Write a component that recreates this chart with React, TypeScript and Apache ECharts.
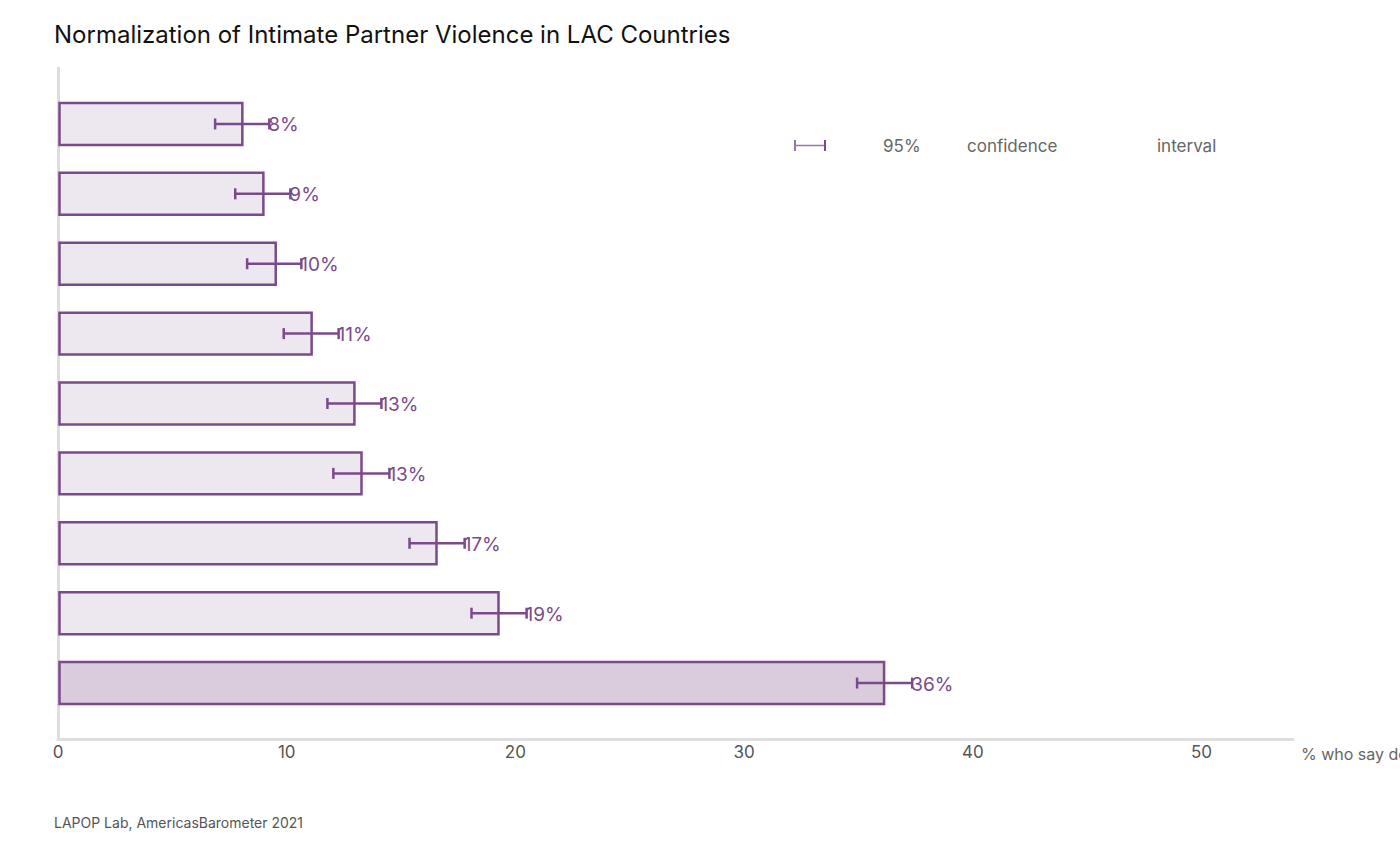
import React, { useEffect, useRef } from "react";
import * as echarts from "echarts";

const values = [8.06, 8.98, 9.52, 11.09, 12.96, 13.27, 16.55, 19.26, 36.12];
const lower = [6.87, 7.75, 8.27, 9.87, 11.78, 12.04, 15.37, 18.08, 34.94];
const upper = [9.24, 10.16, 10.64, 12.27, 14.14, 14.49, 17.78, 20.49, 37.35];
const xTicks = [0, 10, 20, 30, 40, 50];
const titleText = "Normalization of Intimate Partner Violence in LAC Countries";
const sourceText = "LAPOP Lab, AmericasBarometer 2021";
const axisName = "% who say domestic violence is justified";
const legendWords = ["95%", "confidence", "interval"];

const PURPLE = "#7b4a8b";
const FONT = "Inter, 'Noto Sans', sans-serif";

export default function App() {
  const ref = useRef<HTMLDivElement>(null);
  useEffect(() => {
    if (!ref.current) return;
    const chart = echarts.init(ref.current, undefined, { renderer: "svg" });
    const maxVal = Math.max(...values);
    const data = values.map((v, i) => [i, v, lower[i], upper[i]]);
    const option: any = {
      animation: false,
      backgroundColor: "#ffffff",
      textStyle: { fontFamily: FONT },
      title: {
        text: titleText,
        left: 54,
        top: 22,
        padding: 0,
        textStyle: { fontSize: 24, fontWeight: "normal", color: "#111111", fontFamily: FONT },
      },
      grid: { left: 58, right: 107, top: 68, bottom: 127, containLabel: false, outerBoundsMode: "none" },
      xAxis: {
        type: "value",
        min: 0,
        max: 54,
        interval: 10,
        name: axisName,
        nameLocation: "end",
        nameGap: 8,
        nameTextStyle: { color: "#666666", fontSize: 16, verticalAlign: "top", padding: [7, 0, 0, 0], fontFamily: FONT },
        axisLine: { show: true, onZero: false, lineStyle: { color: "#dddddd", width: 3 } },
        axisTick: { show: false },
        splitLine: { show: false },
        axisLabel: {
          color: "#555555",
          fontSize: 17,
          margin: 4,
          showMaxLabel: false,
          fontFamily: FONT,
          formatter: (v: number) => (xTicks.indexOf(v) >= 0 ? String(v) : ""),
        },
      },
      yAxis: {
        type: "value",
        min: -0.8,
        max: 8.8,
        inverse: true,
        axisLine: { show: true, onZero: false, lineStyle: { color: "#dddddd", width: 3 } },
        axisTick: { show: false },
        axisLabel: { show: false },
        splitLine: { show: false },
      },
      series: [
        {
          type: "custom",
          encode: { x: 1, y: 0 },
          data,
          renderItem: (params: any, api: any) => {
            const idx = api.value(0);
            const val = api.value(1);
            const lo = api.value(2);
            const hi = api.value(3);
            const s = api.coord([0, idx]);
            const e = api.coord([val, idx]);
            const l = api.coord([lo, idx]);
            const h = api.coord([hi, idx]);
            const bh = api.size([0, 1])[1] * 0.6;
            const cy = s[1];
            const fill = val === maxVal ? "#dacbdd" : "#ede7f0";
            return {
              type: "group",
              children: [
                {
                  type: "rect",
                  shape: { x: s[0] + 1.5, y: cy - bh / 2, width: e[0] - s[0] - 1.5, height: bh },
                  style: { fill, stroke: PURPLE, lineWidth: 2.5 },
                },
                {
                  type: "line",
                  shape: { x1: l[0], y1: cy, x2: h[0], y2: cy },
                  style: { stroke: PURPLE, lineWidth: 2.5 },
                },
                {
                  type: "line",
                  shape: { x1: l[0], y1: cy - 5.5, x2: l[0], y2: cy + 5.5 },
                  style: { stroke: PURPLE, lineWidth: 2.5 },
                },
                {
                  type: "line",
                  shape: { x1: h[0], y1: cy - 5.5, x2: h[0], y2: cy + 5.5 },
                  style: { stroke: PURPLE, lineWidth: 2.5 },
                },
                {
                  type: "text",
                  x: h[0] - 1,
                  y: cy + 1,
                  style: {
                    text: Math.round(val) + "%",
                    fill: PURPLE,
                    fontSize: 19,
                    fontFamily: FONT,
                    align: "left",
                    verticalAlign: "middle",
                  },
                },
              ],
            };
          },
        },
      ],
      graphic: [
        { type: "line", shape: { x1: 795, y1: 145.5, x2: 825, y2: 145.5 }, style: { stroke: "#9a74a8", lineWidth: 1.5 } },
        { type: "line", shape: { x1: 795, y1: 140, x2: 795, y2: 151 }, style: { stroke: "#9a74a8", lineWidth: 2 } },
        { type: "line", shape: { x1: 825, y1: 140, x2: 825, y2: 151 }, style: { stroke: "#7b4a8b", lineWidth: 2 } },
        { type: "text", x: 883, y: 146, style: { text: legendWords[0], fill: "#666666", fontSize: 17, fontFamily: FONT, verticalAlign: "middle" } },
        { type: "text", x: 967, y: 146, style: { text: legendWords[1], fill: "#666666", fontSize: 17, fontFamily: FONT, verticalAlign: "middle" } },
        { type: "text", x: 1157, y: 146, style: { text: legendWords[2], fill: "#666666", fontSize: 17, fontFamily: FONT, verticalAlign: "middle" } },
        { type: "text", x: 54, y: 822, style: { text: sourceText, fill: "#555555", fontSize: 14, fontFamily: FONT, verticalAlign: "middle" } },
      ],
    };
    chart.setOption(option);
    return () => chart.dispose();
  }, []);
  return (
    <div
      ref={ref}
      style={{ position: "fixed", left: 0, top: 0, width: 1400, height: 866, background: "#fff" }}
    />
  );
}
